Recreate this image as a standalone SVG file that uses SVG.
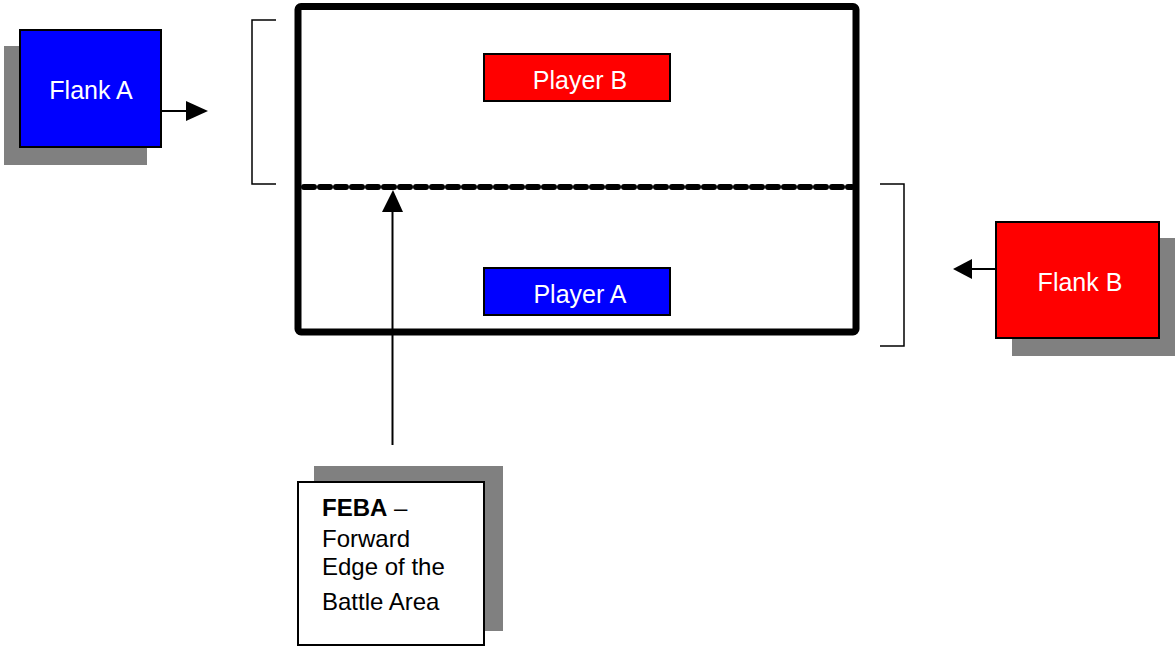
<svg xmlns="http://www.w3.org/2000/svg" width="1175" height="648" viewBox="0 0 1175 648">
<style>
.shadow{fill:#808080}
.box{stroke:#000;stroke-width:2}
.lbl{font-family:"Liberation Sans",Arial,sans-serif;font-size:25px;fill:#fff;text-anchor:middle}
.note{font-family:"Liberation Sans",Arial,sans-serif;font-size:24px;fill:#000}
.thin{fill:none;stroke:#000;stroke-width:1.5}
.head{fill:#000}
</style>
<rect width="1175" height="648" fill="#fff"/>
<g id="battlefield">
<rect x="298" y="6.5" width="558" height="325.5" rx="3" fill="none" stroke="#000" stroke-width="7"/>
</g>
<g id="feba-line">
<line x1="304" y1="187" x2="852" y2="187" stroke="#000" stroke-width="6" stroke-dasharray="10 6" stroke-linecap="round"/>
</g>
<g id="bracket-a">
<path class="thin" d="M276,20 H252 V184 H276"/>
</g>
<g id="bracket-b">
<path class="thin" d="M880,184 H904 V346 H880"/>
</g>
<g id="player-b">
<rect class="box" x="484" y="54" width="186" height="47" fill="#ff0000"/>
<text class="lbl" x="580" y="89">Player B</text>
</g>
<g id="player-a">
<rect class="box" x="484" y="268" width="186" height="47" fill="#0000ff"/>
<text class="lbl" x="580" y="303">Player A</text>
</g>
<g id="flank-a">
<rect class="shadow" x="4" y="46" width="143" height="119"/>
<rect class="box" x="20" y="30" width="141" height="117" fill="#0000ff"/>
<text class="lbl" x="91" y="99">Flank A</text>
</g>
<g id="flank-b">
<rect class="shadow" x="1012" y="238" width="165" height="118"/>
<rect class="box" x="996" y="222" width="163" height="116" fill="#ff0000"/>
<text class="lbl" x="1080" y="291">Flank B</text>
</g>
<g id="feba-note">
<rect class="shadow" x="314" y="466" width="189" height="165"/>
<rect class="box" x="298" y="482" width="186" height="163" fill="#fff"/>
<text class="note" x="322" y="516"><tspan font-weight="bold">FEBA</tspan> –</text>
<text class="note" x="322" y="547">Forward</text>
<text class="note" x="322" y="575">Edge of the</text>
<text class="note" x="322" y="610">Battle Area</text>
</g>
<g id="connectors">
<line x1="161" y1="111" x2="187" y2="111" stroke="#000" stroke-width="2"/>
<polygon class="head" points="186,101 208,111 186,121"/>
<line x1="996" y1="269" x2="971" y2="269" stroke="#000" stroke-width="2"/>
<polygon class="head" points="972,259 953,269 972,279"/>
<line x1="392.5" y1="445" x2="392.5" y2="210" stroke="#000" stroke-width="2"/>
<polygon class="head" points="382,212 393,190 403,212"/>
</g>
</svg>
